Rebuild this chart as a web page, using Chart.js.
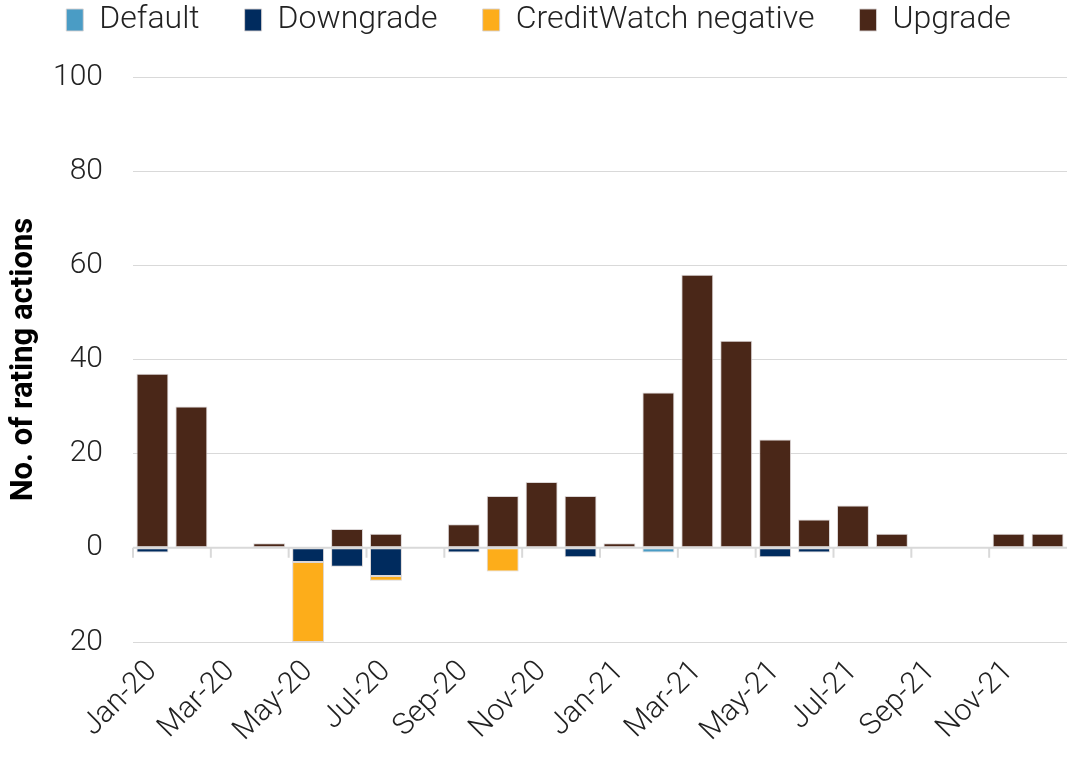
<!DOCTYPE html>
<html>
<head>
<meta charset="utf-8">
<script src="https://cdn.jsdelivr.net/npm/chart.js@4/dist/chart.umd.min.js"></script>
<style>
  html, body { margin: 0; padding: 0; background: #fff; }
  #wrap { width: 1077px; height: 765px; }
</style>
</head>
<body>
<div id="wrap"><canvas id="myChart"></canvas></div>
<script>
const months = ['Jan-20','Feb-20','Mar-20','Apr-20','May-20','Jun-20','Jul-20','Aug-20','Sep-20','Oct-20','Nov-20','Dec-20',
                'Jan-21','Feb-21','Mar-21','Apr-21','May-21','Jun-21','Jul-21','Aug-21','Sep-21','Oct-21','Nov-21','Dec-21'];
const defaults   = [0,0,0,0,0,0,0,0,0,0,0,0, 0,-1,0,0,0,0,0,0,0,0,0,0];
const downgrades = [-1,0,0,0,-3,-4,-6,0,-1,0,0,-2, 0,0,0,0,-2,-1,0,0,0,0,0,0];
const watchNeg   = [0,0,0,0,-17,0,-1,0,0,-5,0,0, 0,0,0,0,0,0,0,0,0,0,0,0];
const upgrades   = [37,30,0,1,0,4,3,0,5,11,14,11, 1,33,58,44,23,6,9,3,0,0,3,3];

const FONT = "'Roboto', sans-serif";

// small tick marks on the zero line, every two months
const zeroTicks = {
  id: 'zeroTicks',
  afterDatasetsDraw(chart) {
    const ctx = chart.ctx;
    const x = chart.scales.x, y = chart.scales.y;
    const y0 = y.getPixelForValue(0);
    const half = (x.getPixelForValue(1) - x.getPixelForValue(0)) / 2;
    ctx.save();
    ctx.strokeStyle = '#d9d9d9';
    ctx.lineWidth = 2;
    ctx.beginPath();
    ctx.moveTo(chart.chartArea.left, y0);
    ctx.lineTo(chart.chartArea.right, y0);
    for (let i = 0; i < months.length; i += 2) {
      const px = x.getPixelForValue(i) - half;
      ctx.moveTo(px, y0);
      ctx.lineTo(px, y0 + 10);
    }
    ctx.stroke();
    ctx.restore();
  }
};

// tweak room under the legend
const legendGap = {
  id: 'legendGap',
  beforeInit(chart) {
    const fit = chart.legend.fit;
    chart.legend.fit = function() {
      fit.bind(chart.legend)();
      this.height += 31;
    };
  }
};

const barStyle = { borderWidth: 1, borderColor: 'rgba(215,210,210,0.9)', borderSkipped: false,
                   barPercentage: 0.82, categoryPercentage: 1.0 };

new Chart(document.getElementById('myChart'), {
  type: 'bar',
  data: {
    labels: months,
    datasets: [
      Object.assign({ label: 'Default', data: defaults, backgroundColor: '#4a9cc5' }, barStyle),
      Object.assign({ label: 'Downgrade', data: downgrades, backgroundColor: '#002b5e' }, barStyle),
      Object.assign({ label: 'CreditWatch negative', data: watchNeg, backgroundColor: '#fdad1a' }, barStyle),
      Object.assign({ label: 'Upgrade', data: upgrades, backgroundColor: '#4a2718' }, barStyle)
    ]
  },
  options: {
    responsive: true,
    maintainAspectRatio: false,
    animation: false,
    layout: { padding: { left: 0, right: 0, top: -41, bottom: 0 } },
    plugins: {
      legend: {
        position: 'top',
        labels: {
          boxWidth: 17, boxHeight: 22, padding: 45,
          color: '#222', font: { family: FONT, size: 32, weight: 300 }
        }
      },
      tooltip: { enabled: false }
    },
    scales: {
      x: {
        stacked: true,
        grid: { display: false },
        border: { display: false },
        ticks: {
          autoSkip: false, maxRotation: 45, minRotation: 45, padding: 4,
          color: '#222', font: { family: FONT, size: 30, weight: 300 },
          callback: function(v, i) { return i % 2 === 0 ? months[i] : ''; }
        },
        afterFit: function(s) { s.height = 123; }
      },
      y: {
        stacked: true,
        min: -20, max: 100,
        ticks: {
          stepSize: 20, padding: 30,
          color: '#222', font: { family: FONT, size: 30, weight: 300 },
          callback: function(v) { return Math.abs(v); }
        },
        grid: { color: '#d9d9d9', lineWidth: 1, drawTicks: false },
        border: { display: false },
        title: {
          display: true, text: 'No. of rating actions', padding: { top: 6, bottom: 0 },
          color: '#000', font: { family: FONT, size: 31, weight: 'bold' }
        },
        afterFit: function(s) { s.width = 133; }
      }
    }
  },
  plugins: [zeroTicks, legendGap]
});
</script>
</body>
</html>
